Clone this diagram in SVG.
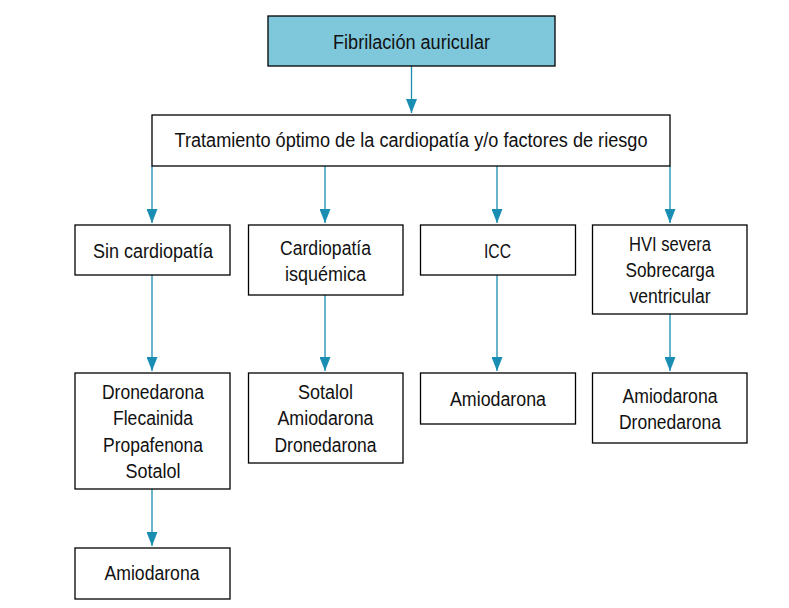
<svg xmlns="http://www.w3.org/2000/svg" width="789" height="608" viewBox="0 0 789 608">
<style>
.box{fill:#fff;stroke:#000;stroke-width:1.3}
.hl{fill:#7fc8dc}
text{font-family:"Liberation Sans Narrow","Liberation Sans",Arial,sans-serif;font-size:20px;fill:#111;text-anchor:middle}
.c{stroke:#1a8db3;stroke-width:1.3;fill:none;marker-end:url(#ah)}
</style>
<defs>
<marker id="ah" markerUnits="userSpaceOnUse" viewBox="0 0 14 11" markerWidth="14" markerHeight="11" refX="14" refY="5.5" orient="auto">
<path d="M0,0 L14,5.5 L0,11 z" fill="#1a8db3"/>
</marker>
</defs>
<rect width="789" height="608" fill="#fff"/>
<g id="connectors">
<line class="c" x1="411.5" y1="66" x2="411.5" y2="113"/>
<line class="c" x1="152" y1="166" x2="152" y2="223"/>
<line class="c" x1="325" y1="166" x2="325" y2="223"/>
<line class="c" x1="497" y1="166" x2="497" y2="223"/>
<line class="c" x1="670" y1="166" x2="670" y2="223"/>
<line class="c" x1="152" y1="275" x2="152" y2="371"/>
<line class="c" x1="325" y1="295" x2="325" y2="371"/>
<line class="c" x1="497" y1="275" x2="497" y2="371"/>
<line class="c" x1="670" y1="314" x2="670" y2="371"/>
<line class="c" x1="152" y1="489" x2="152" y2="546"/>
</g>
<g id="n-fa">
<rect class="box hl" x="268" y="16" width="287" height="50"/>
<text x="411.5" y="49" textLength="157" lengthAdjust="spacingAndGlyphs">Fibrilación auricular</text>
</g>
<g id="n-trat">
<rect class="box" x="152" y="115" width="518" height="51"/>
<text x="411" y="147" textLength="473" lengthAdjust="spacingAndGlyphs">Tratamiento óptimo de la cardiopatía y/o factores de riesgo</text>
</g>
<g id="n-sin">
<rect class="box" x="75" y="225" width="155" height="50"/>
<text x="153" y="258" textLength="120" lengthAdjust="spacingAndGlyphs">Sin cardiopatía</text>
</g>
<g id="n-isq">
<rect class="box" x="248.5" y="225" width="154.5" height="70"/>
<text x="325.5" y="255" textLength="91" lengthAdjust="spacingAndGlyphs">Cardiopatía</text>
<text x="325.5" y="281" textLength="81" lengthAdjust="spacingAndGlyphs">isquémica</text>
</g>
<g id="n-icc">
<rect class="box" x="420.5" y="225" width="155" height="50"/>
<text x="497.5" y="258" textLength="27" lengthAdjust="spacingAndGlyphs">ICC</text>
</g>
<g id="n-hvi">
<rect class="box" x="592.5" y="225" width="154.5" height="89"/>
<text x="670" y="251" textLength="82" lengthAdjust="spacingAndGlyphs">HVI severa</text>
<text x="670" y="277" textLength="89" lengthAdjust="spacingAndGlyphs">Sobrecarga</text>
<text x="670" y="303" textLength="81" lengthAdjust="spacingAndGlyphs">ventricular</text>
</g>
<g id="n-drugs1">
<rect class="box" x="75" y="373" width="155" height="116"/>
<text x="153" y="399" textLength="102" lengthAdjust="spacingAndGlyphs">Dronedarona</text>
<text x="153" y="425" textLength="80" lengthAdjust="spacingAndGlyphs">Flecainida</text>
<text x="153" y="452" textLength="100" lengthAdjust="spacingAndGlyphs">Propafenona</text>
<text x="153" y="478" textLength="55" lengthAdjust="spacingAndGlyphs">Sotalol</text>
</g>
<g id="n-drugs2">
<rect class="box" x="248.5" y="373" width="154.5" height="90"/>
<text x="325.5" y="399" textLength="55" lengthAdjust="spacingAndGlyphs">Sotalol</text>
<text x="325.5" y="425" textLength="96" lengthAdjust="spacingAndGlyphs">Amiodarona</text>
<text x="325.5" y="452" textLength="102" lengthAdjust="spacingAndGlyphs">Dronedarona</text>
</g>
<g id="n-drugs3">
<rect class="box" x="420.5" y="373" width="155" height="51"/>
<text x="498" y="406" textLength="96" lengthAdjust="spacingAndGlyphs">Amiodarona</text>
</g>
<g id="n-drugs4">
<rect class="box" x="592.5" y="373" width="154.5" height="70"/>
<text x="670" y="403" textLength="95" lengthAdjust="spacingAndGlyphs">Amiodarona</text>
<text x="670" y="429" textLength="102" lengthAdjust="spacingAndGlyphs">Dronedarona</text>
</g>
<g id="n-amio">
<rect class="box" x="75" y="548" width="155" height="51"/>
<text x="152" y="580" textLength="95" lengthAdjust="spacingAndGlyphs">Amiodarona</text>
</g>
</svg>
